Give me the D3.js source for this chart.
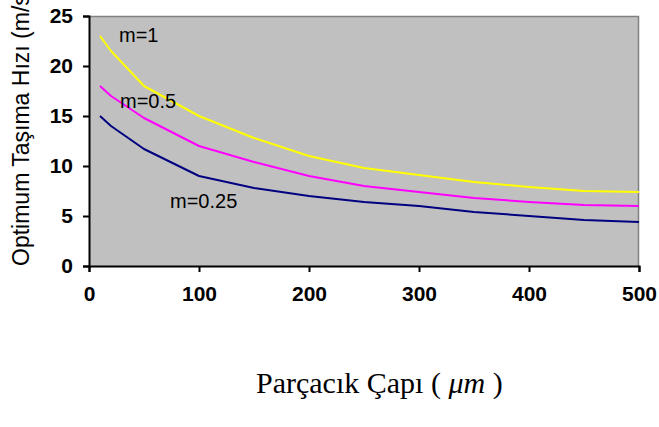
<!DOCTYPE html>
<html>
<head>
<meta charset="utf-8">
<script src="https://cdn.jsdelivr.net/npm/d3@7"></script>
<style>
  html, body { margin: 0; padding: 0; background: #fff; }
  svg { display: block; }
</style>
</head>
<body>
<svg id="chart" width="659" height="427"></svg>
<script>
// Particle diameter (µm) and optimum conveying velocity (m/s) for each m
const diameters = [10, 20, 50, 100, 150, 200, 250, 300, 350, 400, 450, 500];
const vM1   = [23, 21.5, 18, 15, 12.8, 11, 9.8, 9.1, 8.4, 7.9, 7.5, 7.4];
const vM05  = [18, 17, 14.8, 12, 10.4, 9, 8, 7.4, 6.8, 6.4, 6.1, 6.0];
const vM025 = [15, 14, 11.7, 9, 7.8, 7, 6.4, 6, 5.4, 5, 4.6, 4.4];
const seriesNames = ["m=1", "m=0.5", "m=0.25"];
const xTicks = [0, 100, 200, 300, 400, 500];
const yTicks = [0, 5, 10, 15, 20, 25];

const series = [
  { name: seriesNames[0], values: vM1,   color: "#ffff00", label: [119, 42] },
  { name: seriesNames[1], values: vM05,  color: "#ff00ff", label: [120, 108] },
  { name: seriesNames[2], values: vM025, color: "#000080", label: [170, 208] }
];

const svg = d3.select("#chart");
const plot = { left: 89, right: 639, top: 16, bottom: 266 };

const x = d3.scaleLinear().domain([0, 500]).range([plot.left, plot.right]);
const y = d3.scaleLinear().domain([0, 25]).range([plot.bottom, plot.top]);

// plot area background
svg.append("rect")
  .attr("x", plot.left).attr("y", plot.top)
  .attr("width", plot.right - plot.left).attr("height", plot.bottom - plot.top)
  .attr("fill", "#c0c0c0");

// top and right frame
svg.append("path")
  .attr("d", `M${plot.left},${plot.top + 0.5}H${plot.right - 0.5}V${plot.bottom}`)
  .attr("fill", "none").attr("stroke", "#808080").attr("stroke-width", 1.5);

// curves
const line = d3.line()
  .x((d, i) => x(diameters[i]))
  .y(d => y(d));

series.forEach(s => {
  svg.append("path")
    .datum(s.values)
    .attr("d", line)
    .attr("fill", "none")
    .attr("stroke", s.color)
    .attr("stroke-width", 2)
    .attr("stroke-linejoin", "round");
});

// series labels
series.forEach(s => {
  svg.append("text")
    .attr("x", s.label[0]).attr("y", s.label[1])
    .attr("font-family", "Liberation Sans, Arial, sans-serif")
    .attr("font-size", 20)
    .attr("fill", "#000")
    .text(s.name);
});

// y axis
const yAxis = svg.append("g")
  .attr("transform", `translate(${plot.left},0)`)
  .call(d3.axisLeft(y).tickValues(yTicks).tickSize(6).tickPadding(10).tickFormat(d3.format("d")));
yAxis.select(".domain").attr("stroke", "#000").attr("stroke-width", 2);
yAxis.selectAll(".tick line").attr("stroke", "#000").attr("stroke-width", 2);
yAxis.selectAll(".tick text")
  .attr("font-family", "Liberation Sans, Arial, sans-serif")
  .attr("font-weight", "bold")
  .attr("font-size", 21)
  .attr("fill", "#000");

// x axis
const xAxis = svg.append("g")
  .attr("transform", `translate(0,${plot.bottom})`)
  .call(d3.axisBottom(x).tickValues(xTicks).tickSize(6).tickPadding(14).tickFormat(d3.format("d")));
xAxis.select(".domain").attr("stroke", "#000").attr("stroke-width", 2);
xAxis.selectAll(".tick line").attr("stroke", "#000").attr("stroke-width", 2);
xAxis.selectAll(".tick text")
  .attr("font-family", "Liberation Sans, Arial, sans-serif")
  .attr("font-weight", "bold")
  .attr("font-size", 21)
  .attr("fill", "#000");

// y axis title (runs past the top edge of the page)
svg.append("text")
  .attr("transform", "translate(29,266) rotate(-90)")
  .attr("font-family", "Liberation Sans, Arial, sans-serif")
  .attr("font-size", 23)
  .attr("fill", "#000")
  .text("Optimum Taşıma Hızı (m/s)");

// x axis title
const xt = svg.append("text")
  .attr("x", 256).attr("y", 393)
  .attr("font-family", "Liberation Serif, Times New Roman, serif")
  .attr("font-size", 30)
  .attr("fill", "#000");
xt.append("tspan").text("Parçacık Çapı ( ");
xt.append("tspan").attr("font-style", "italic").text("μm");
xt.append("tspan").text(" )");
</script>
</body>
</html>
